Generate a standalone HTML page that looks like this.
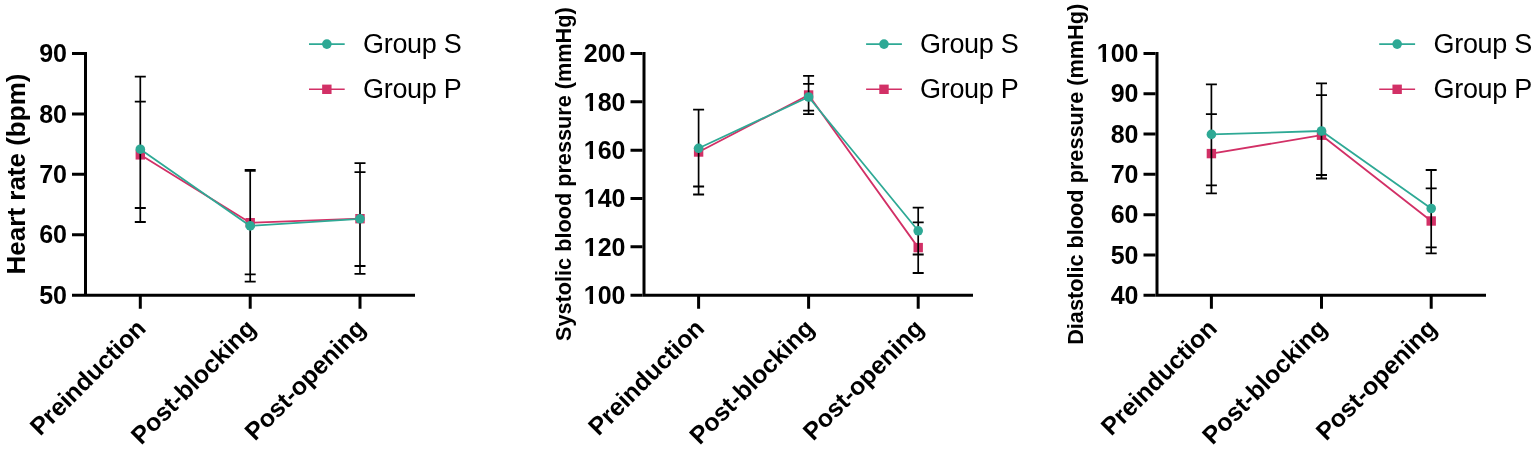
<!DOCTYPE html>
<html><head><meta charset="utf-8"><title>Hemodynamic changes</title>
<style>
html,body{margin:0;padding:0;background:#fff;}
svg{display:block;}
text{font-family:'Liberation Sans', Arial, Helvetica, sans-serif;fill:#000;}
</style></head><body>
<svg width="1535" height="450" viewBox="0 0 1535 450">
<rect width="1535" height="450" fill="#fff"/>
<path d="M85.5 52V296.7M84 295.2H415" stroke="#000" stroke-width="3" fill="none"/>
<path d="M72 53.5H84M72 113.92H84M72 174.35H84M72 234.77H84M72 295.2H84M140.3 295.2V308.7M250.2 295.2V308.7M360 295.2V308.7" stroke="#000" stroke-width="3" fill="none"/>
<text x="67" y="62.2" text-anchor="end" font-size="25" font-weight="bold">90</text>
<text x="67" y="122.62" text-anchor="end" font-size="25" font-weight="bold">80</text>
<text x="67" y="183.05" text-anchor="end" font-size="25" font-weight="bold">70</text>
<text x="67" y="243.47" text-anchor="end" font-size="25" font-weight="bold">60</text>
<text x="67" y="303.9" text-anchor="end" font-size="25" font-weight="bold">50</text>
<text transform="translate(24.7 174) rotate(-90)" text-anchor="middle" font-size="26" font-weight="bold">Heart rate (bpm)</text>
<text transform="translate(147.3 329.7) rotate(-45)" text-anchor="end" font-size="24.8" font-weight="bold">Preinduction</text>
<text transform="translate(257.2 329.7) rotate(-45)" text-anchor="end" font-size="24.8" font-weight="bold">Post-blocking</text>
<text transform="translate(367 329.7) rotate(-45)" text-anchor="end" font-size="24.8" font-weight="bold">Post-opening</text>
<polyline points="140.3,154.85 250.2,222.7 360,218.7" stroke="#d23066" stroke-width="1.8" fill="none" stroke-linejoin="round"/>
<rect x="135.6" y="150.15" width="9.4" height="9.4" fill="#d23066"/>
<rect x="245.5" y="218" width="9.4" height="9.4" fill="#d23066"/>
<rect x="355.3" y="214" width="9.4" height="9.4" fill="#d23066"/>
<path d="M140.3 76.6V222M250.2 169.8V281.6M360 163.1V273.9" stroke="#000" stroke-width="1.7" fill="none"/>
<path d="M134.8 76.6H145.8M134.8 222H145.8M134.8 101.7H145.8M134.8 208H145.8M244.7 169.8H255.7M244.7 281.6H255.7M244.7 170.8H255.7M244.7 274.4H255.7M354.5 163.1H365.5M354.5 273.9H365.5M354.5 172.2H365.5M354.5 266H365.5" stroke="#000" stroke-width="1.8" fill="none"/>
<polyline points="140.3,149.2 250.2,225.9 360,218.8" stroke="#2ea995" stroke-width="1.8" fill="none" stroke-linejoin="round"/>
<circle cx="140.3" cy="149.2" r="4.8" fill="#2ea995"/>
<circle cx="250.2" cy="225.9" r="4.8" fill="#2ea995"/>
<circle cx="360" cy="218.8" r="4.8" fill="#2ea995"/>
<path d="M309 44.1H344.7" stroke="#2ea995" stroke-width="1.6"/>
<circle cx="326.85" cy="44.1" r="4.8" fill="#2ea995"/>
<path d="M309 89.3H344.7" stroke="#d23066" stroke-width="1.6"/>
<rect x="322.15" y="84.6" width="9.4" height="9.4" fill="#d23066"/>
<text x="363" y="53" font-size="27" letter-spacing="-0.3">Group S</text>
<text x="363" y="98.2" font-size="27" letter-spacing="-0.3">Group P</text>
<path d="M644 52V296.7M642.5 295.2H973" stroke="#000" stroke-width="3" fill="none"/>
<path d="M630.5 53.5H642.5M630.5 101.84H642.5M630.5 150.18H642.5M630.5 198.52H642.5M630.5 246.86H642.5M630.5 295.2H642.5M698.6 295.2V308.7M808.6 295.2V308.7M918.2 295.2V308.7" stroke="#000" stroke-width="3" fill="none"/>
<text x="625.5" y="62.2" text-anchor="end" font-size="25" font-weight="bold">200</text>
<text x="625.5" y="110.54" text-anchor="end" font-size="25" font-weight="bold">180</text>
<text x="625.5" y="158.88" text-anchor="end" font-size="25" font-weight="bold">160</text>
<text x="625.5" y="207.22" text-anchor="end" font-size="25" font-weight="bold">140</text>
<text x="625.5" y="255.56" text-anchor="end" font-size="25" font-weight="bold">120</text>
<text x="625.5" y="303.9" text-anchor="end" font-size="25" font-weight="bold">100</text>
<path d="M585.01 106.51H589.62V111.74H585.01zM593.05 106.51H597.34V111.74H593.05z" fill="#fff"/>
<path d="M585.01 154.85H589.62V160.08H585.01zM593.05 154.85H597.34V160.08H593.05z" fill="#fff"/>
<path d="M585.01 203.19H589.62V208.42H585.01zM593.05 203.19H597.34V208.42H593.05z" fill="#fff"/>
<path d="M585.01 251.53H589.62V256.76H585.01zM593.05 251.53H597.34V256.76H593.05z" fill="#fff"/>
<path d="M585.01 299.87H589.62V305.1H585.01zM593.05 299.87H597.34V305.1H593.05z" fill="#fff"/>
<text transform="translate(571.3 174.15) rotate(-90)" text-anchor="middle" font-size="21.7" font-weight="bold">Systolic blood pressure (mmHg)</text>
<text transform="translate(705.6 329.7) rotate(-45)" text-anchor="end" font-size="24.8" font-weight="bold">Preinduction</text>
<text transform="translate(815.6 329.7) rotate(-45)" text-anchor="end" font-size="24.8" font-weight="bold">Post-blocking</text>
<text transform="translate(925.2 329.7) rotate(-45)" text-anchor="end" font-size="24.8" font-weight="bold">Post-opening</text>
<polyline points="698.6,152 808.6,95 918.2,247.6" stroke="#d23066" stroke-width="1.8" fill="none" stroke-linejoin="round"/>
<rect x="693.9" y="147.3" width="9.4" height="9.4" fill="#d23066"/>
<rect x="803.9" y="90.3" width="9.4" height="9.4" fill="#d23066"/>
<rect x="913.5" y="242.9" width="9.4" height="9.4" fill="#d23066"/>
<path d="M698.6 109.7V194.5M808.6 75.8V114.2M918.2 207.6V273" stroke="#000" stroke-width="1.7" fill="none"/>
<path d="M693.1 109.7H704.1M693.1 186.5H704.1M693.1 109.7H704.1M693.1 194.5H704.1M803.1 83.9H814.1M803.1 110.6H814.1M803.1 75.8H814.1M803.1 114.2H814.1M912.7 207.6H923.7M912.7 254.5H923.7M912.7 222.4H923.7M912.7 273H923.7" stroke="#000" stroke-width="1.8" fill="none"/>
<polyline points="698.6,148.3 808.6,97 918.2,230.8" stroke="#2ea995" stroke-width="1.8" fill="none" stroke-linejoin="round"/>
<circle cx="698.6" cy="148.3" r="4.8" fill="#2ea995"/>
<circle cx="808.6" cy="97" r="4.8" fill="#2ea995"/>
<circle cx="918.2" cy="230.8" r="4.8" fill="#2ea995"/>
<path d="M866.1 44.1H901.9" stroke="#2ea995" stroke-width="1.6"/>
<circle cx="884" cy="44.1" r="4.8" fill="#2ea995"/>
<path d="M866.1 89.3H901.9" stroke="#d23066" stroke-width="1.6"/>
<rect x="879.3" y="84.6" width="9.4" height="9.4" fill="#d23066"/>
<text x="920" y="53" font-size="27" letter-spacing="-0.3">Group S</text>
<text x="920" y="98.2" font-size="27" letter-spacing="-0.3">Group P</text>
<path d="M1157 52V296.7M1155.5 295.2H1486" stroke="#000" stroke-width="3" fill="none"/>
<path d="M1143.5 53.5H1155.5M1143.5 93.78H1155.5M1143.5 134.07H1155.5M1143.5 174.35H1155.5M1143.5 214.63H1155.5M1143.5 254.92H1155.5M1143.5 295.2H1155.5M1211.4 295.2V308.7M1321.5 295.2V308.7M1431.2 295.2V308.7" stroke="#000" stroke-width="3" fill="none"/>
<text x="1138.5" y="62.2" text-anchor="end" font-size="25" font-weight="bold">100</text>
<text x="1138.5" y="102.48" text-anchor="end" font-size="25" font-weight="bold">90</text>
<text x="1138.5" y="142.77" text-anchor="end" font-size="25" font-weight="bold">80</text>
<text x="1138.5" y="183.05" text-anchor="end" font-size="25" font-weight="bold">70</text>
<text x="1138.5" y="223.33" text-anchor="end" font-size="25" font-weight="bold">60</text>
<text x="1138.5" y="263.62" text-anchor="end" font-size="25" font-weight="bold">50</text>
<text x="1138.5" y="303.9" text-anchor="end" font-size="25" font-weight="bold">40</text>
<path d="M1098.01 58.17H1102.62V63.4H1098.01zM1106.05 58.17H1110.34V63.4H1106.05z" fill="#fff"/>
<text transform="translate(1083.2 174.3) rotate(-90)" text-anchor="middle" font-size="21.7" font-weight="bold">Diastolic blood pressure (mmHg)</text>
<text transform="translate(1218.4 329.7) rotate(-45)" text-anchor="end" font-size="24.8" font-weight="bold">Preinduction</text>
<text transform="translate(1328.5 329.7) rotate(-45)" text-anchor="end" font-size="24.8" font-weight="bold">Post-blocking</text>
<text transform="translate(1438.2 329.7) rotate(-45)" text-anchor="end" font-size="24.8" font-weight="bold">Post-opening</text>
<polyline points="1211.4,153.6 1321.5,135.2 1431.2,221" stroke="#d23066" stroke-width="1.8" fill="none" stroke-linejoin="round"/>
<rect x="1206.7" y="148.9" width="9.4" height="9.4" fill="#d23066"/>
<rect x="1316.8" y="130.5" width="9.4" height="9.4" fill="#d23066"/>
<rect x="1426.5" y="216.3" width="9.4" height="9.4" fill="#d23066"/>
<path d="M1211.4 84.4V193.3M1321.5 83.4V178.5M1431.2 170V253.3" stroke="#000" stroke-width="1.7" fill="none"/>
<path d="M1205.9 84.4H1216.9M1205.9 185.3H1216.9M1205.9 114.1H1216.9M1205.9 193.3H1216.9M1316 83.4H1327M1316 178.5H1327M1316 95.2H1327M1316 175H1327M1425.7 170H1436.7M1425.7 247.3H1436.7M1425.7 188.4H1436.7M1425.7 253.3H1436.7" stroke="#000" stroke-width="1.8" fill="none"/>
<polyline points="1211.4,134.4 1321.5,131 1431.2,208.5" stroke="#2ea995" stroke-width="1.8" fill="none" stroke-linejoin="round"/>
<circle cx="1211.4" cy="134.4" r="4.8" fill="#2ea995"/>
<circle cx="1321.5" cy="131" r="4.8" fill="#2ea995"/>
<circle cx="1431.2" cy="208.5" r="4.8" fill="#2ea995"/>
<path d="M1379.2 44.1H1415.1" stroke="#2ea995" stroke-width="1.6"/>
<circle cx="1397.15" cy="44.1" r="4.8" fill="#2ea995"/>
<path d="M1379.2 89.3H1415.1" stroke="#d23066" stroke-width="1.6"/>
<rect x="1392.45" y="84.6" width="9.4" height="9.4" fill="#d23066"/>
<text x="1433.5" y="53" font-size="27" letter-spacing="-0.3">Group S</text>
<text x="1433.5" y="98.2" font-size="27" letter-spacing="-0.3">Group P</text>
</svg>
</body></html>
